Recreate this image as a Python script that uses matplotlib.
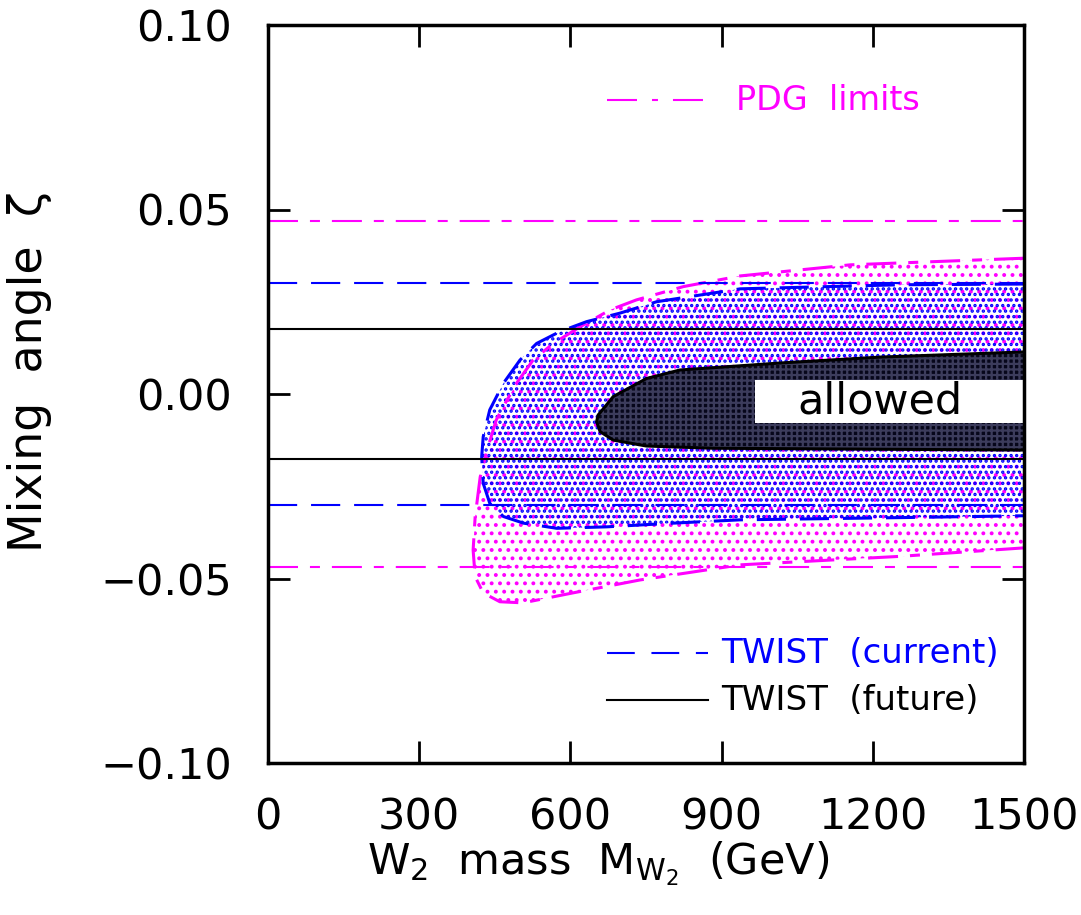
#!/usr/bin/env python3
"""Mixing angle vs W2 mass: PDG and TWIST limits."""
import matplotlib
matplotlib.use("Agg")
import matplotlib.pyplot as plt
from matplotlib.patches import Polygon, Rectangle

plt.rcParams["font.family"] = "DejaVu Sans"
plt.rcParams["mathtext.fontset"] = "dejavusans"
plt.rcParams["lines.scale_dashes"] = False
plt.rcParams["hatch.linewidth"] = 1.6

MAGENTA = "#ff00ff"
BLUE = "#0000ff"

# horizontal limits on zeta
pdg_limit = 0.047
twist_current = 0.030
twist_future = 0.0175

# region bounded by the magenta dash-dot curve (mass GeV, zeta)
pdg_mass = [1500, 1155, 937, 824, 731, 679, 619, 566, 526, 493, 467, 453, 435, 421, 411, 407,
            411, 427, 460, 506, 605, 738, 937, 1254, 1500]
pdg_zeta = [0.0368, 0.0350, 0.0320, 0.0291, 0.0255, 0.0228, 0.0182, 0.0137, 0.0092, 0.0029,
            -0.0034, -0.0070, -0.0150, -0.0225, -0.0333, -0.0423, -0.0495, -0.0539, -0.0563,
            -0.0566, -0.0539, -0.0504, -0.0463, -0.0440, -0.0417]

# region bounded by the blue dashed curve
cur_mass = [1500, 1254, 937, 771, 698, 632, 579, 533, 500, 467, 440, 427, 424, 427, 440, 467,
            507, 573, 672, 804, 937, 1254, 1500]
cur_zeta = [0.0298, 0.0296, 0.0285, 0.0250, 0.0219, 0.0196, 0.0169, 0.0137, 0.0092, 0.0029,
            -0.0043, -0.0116, -0.0170, -0.0242, -0.0296, -0.0332, -0.0350, -0.0364, -0.0360,
            -0.0350, -0.0341, -0.0335, -0.0330]

# allowed region (black contour)
ok_mass = [1500, 1214, 1016, 817, 751, 685, 669, 655, 652, 659, 685, 751, 883, 1500]
ok_zeta = [0.0114, 0.0100, 0.0084, 0.0065, 0.0042, -0.0007, -0.0034, -0.0057, -0.0075,
           -0.0102, -0.0125, -0.0141, -0.0147, -0.0152]

x_ticks = [0, 300, 600, 900, 1200, 1500]
y_ticks = [-0.10, -0.05, 0.00, 0.05, 0.10]

pdg_dash = (0, (21.6, 8.6, 7.2, 8.6))
cur_dash = (0, (21, 10))

fig = plt.figure(figsize=(10.81, 9.15), dpi=100)
ax = fig.add_axes([268 / 1081, 1 - 763 / 915, 756 / 1081, 738 / 915])
ax.set_xlim(0, 1500)
ax.set_ylim(-0.10, 0.10)

# filled regions
ax.add_patch(Polygon(list(zip(pdg_mass, pdg_zeta)), closed=True, facecolor="none",
                     edgecolor=MAGENTA, linewidth=0, hatch="..", zorder=1))
ax.add_patch(Polygon(list(zip(cur_mass, cur_zeta)), closed=True, facecolor="none",
                     edgecolor=BLUE, linewidth=0, hatch="...", zorder=2))
ax.add_patch(Polygon(list(zip(ok_mass, ok_zeta)), closed=True, facecolor="#06061a",
                     edgecolor="#3c3c5c", linewidth=0, hatch="+++", zorder=3))

# region outlines
ax.plot(pdg_mass, pdg_zeta, color=MAGENTA, lw=2.2, linestyle=pdg_dash, zorder=4)
ax.plot(cur_mass, cur_zeta, color=BLUE, lw=2.2, linestyle=cur_dash, zorder=4)
ax.plot(ok_mass, ok_zeta, color="black", lw=2.2, zorder=4)

# "allowed" label box
ax.add_patch(Rectangle((966, -0.0079), 540, 0.0117, facecolor="white", edgecolor="none", zorder=5))
ax.text(1214, -0.0021, "allowed", fontsize=31, ha="center", va="center", zorder=6)

# horizontal limits
for s in (1, -1):
    ax.axhline(s * pdg_limit, color=MAGENTA, lw=1.5, linestyle=pdg_dash, zorder=5)
    ax.axhline(s * twist_current, color=BLUE, lw=1.5, linestyle=cur_dash, zorder=5)
    ax.axhline(s * twist_future, color="black", lw=1.5, zorder=5)

# legend entries
ax.plot([0.448, 0.580], [0.898, 0.898], transform=ax.transAxes, color=MAGENTA, lw=1.5,
        linestyle=(0, (21.6, 10.8, 4.3, 10.8)))
ax.text(0.619, 0.898, "PDG  limits", transform=ax.transAxes, color=MAGENTA, fontsize=24, va="center")
ax.plot([0.448, 0.582], [0.149, 0.149], transform=ax.transAxes, color=BLUE, lw=1.5,
        linestyle=(0, (20, 12)))
ax.text(0.600, 0.149, "TWIST  (current)", transform=ax.transAxes, color=BLUE, fontsize=24.5, va="center")
ax.plot([0.448, 0.582], [0.085, 0.085], transform=ax.transAxes, color="black", lw=1.5)
ax.text(0.600, 0.085, "TWIST  (future)", transform=ax.transAxes, color="black", fontsize=24.5, va="center")

# axes styling
for sp in ax.spines.values():
    sp.set_linewidth(2.5)
    sp.set_zorder(10)
ax.set_xticks(x_ticks)
ax.set_yticks(y_ticks)
ax.set_xticklabels([str(v) for v in x_ticks])
ax.set_yticklabels([f"{v:.2f}".replace("-", "\u2212") for v in y_ticks])
ax.tick_params(direction="in", length=16, width=2, top=True, right=True, labelsize=31)
ax.tick_params(axis="x", pad=24)
ax.tick_params(axis="y", pad=26)

fig.text(30 / 1081, 1 - 372 / 915, "Mixing  angle  \u03b6", rotation=90, ha="center",
         va="center", fontsize=33)
fig.text(598 / 1081, 1 - 874 / 915, r"W$_2$  mass  M$_{\mathrm{W}_2}$  (GeV)", ha="center",
         va="baseline", fontsize=31)

fig.savefig("out.png", dpi=100)
